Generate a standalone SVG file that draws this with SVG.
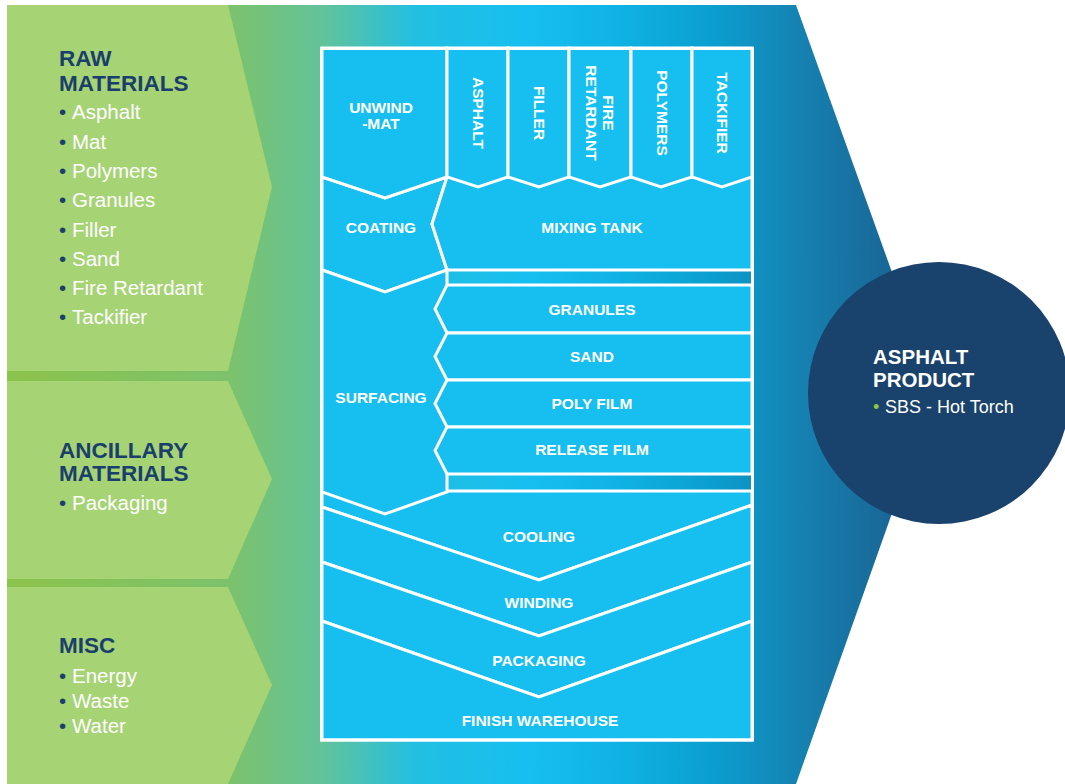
<svg xmlns="http://www.w3.org/2000/svg" width="1065" height="784" viewBox="0 0 1065 784">
  <defs>
    <linearGradient id="bg" gradientUnits="userSpaceOnUse" x1="7" y1="0" x2="935" y2="0">
      <stop offset="0" stop-color="#8cc34b"/>
      <stop offset="0.24" stop-color="#7cc26c"/>
      <stop offset="0.34" stop-color="#62c39a"/>
      <stop offset="0.44" stop-color="#22bfe2"/>
      <stop offset="0.56" stop-color="#16bff0"/>
      <stop offset="0.66" stop-color="#0fb2e4"/>
      <stop offset="0.76" stop-color="#0a9fcf"/>
      <stop offset="0.86" stop-color="#1680b0"/>
      <stop offset="1" stop-color="#1a5a88"/>
    </linearGradient>
    <style>
      .panel { fill: #a6d374; }
      .box { fill: #16bff0; stroke: #ffffff; stroke-width: 3; stroke-linejoin: miter; }
      .lbl { font-family: "Liberation Sans", Arial, sans-serif; font-weight: bold; font-size: 15.5px; fill: #ffffff; text-anchor: middle; }
      .head { font-family: "Liberation Sans", Arial, sans-serif; font-weight: bold; font-size: 22.5px; fill: #1a3f6c; }
      .item { font-family: "Liberation Sans", Arial, sans-serif; font-size: 20.5px; fill: #ffffff; }
      .dot { fill: #1a3f6c; }
      .phead { font-family: "Liberation Sans", Arial, sans-serif; font-weight: bold; font-size: 20.5px; fill: #ffffff; }
      .pitem { font-family: "Liberation Sans", Arial, sans-serif; font-size: 18px; fill: #ffffff; }
    </style>
  </defs>

  <rect x="0" y="0" width="1065" height="784" fill="#ffffff"/>
  <polygon id="background-arrow" points="7,5 796,5 935,392 796,784 7,784" fill="url(#bg)"/>

  <g id="raw-materials">
    <polygon class="panel" points="7,5 228,5 272,187 228,371 7,371"/>
    <text class="head" x="59" y="66">RAW</text>
    <text class="head" x="59" y="91">MATERIALS</text>
    <text class="item" x="59" y="119"><tspan class="dot">•</tspan><tspan x="72">Asphalt</tspan></text>
    <text class="item" x="59" y="148.5"><tspan class="dot">•</tspan><tspan x="72">Mat</tspan></text>
    <text class="item" x="59" y="178"><tspan class="dot">•</tspan><tspan x="72">Polymers</tspan></text>
    <text class="item" x="59" y="207"><tspan class="dot">•</tspan><tspan x="72">Granules</tspan></text>
    <text class="item" x="59" y="236.5"><tspan class="dot">•</tspan><tspan x="72">Filler</tspan></text>
    <text class="item" x="59" y="265.5"><tspan class="dot">•</tspan><tspan x="72">Sand</tspan></text>
    <text class="item" x="59" y="295"><tspan class="dot">•</tspan><tspan x="72">Fire Retardant</tspan></text>
    <text class="item" x="59" y="324"><tspan class="dot">•</tspan><tspan x="72">Tackifier</tspan></text>
  </g>

  <g id="ancillary-materials">
    <polygon class="panel" points="7,381 228,381 272,479 228,579 7,579"/>
    <text class="head" x="59" y="458">ANCILLARY</text>
    <text class="head" x="59" y="481">MATERIALS</text>
    <text class="item" x="59" y="510"><tspan class="dot">•</tspan><tspan x="72">Packaging</tspan></text>
  </g>

  <g id="misc">
    <polygon class="panel" points="7,587 228,587 272,685 228,784 7,784"/>
    <text class="head" x="59" y="653">MISC</text>
    <text class="item" x="59" y="683"><tspan class="dot">•</tspan><tspan x="72">Energy</tspan></text>
    <text class="item" x="59" y="708"><tspan class="dot">•</tspan><tspan x="72">Waste</tspan></text>
    <text class="item" x="59" y="733"><tspan class="dot">•</tspan><tspan x="72">Water</tspan></text>
  </g>

  <g id="cooling">
    <polygon class="box" points="322,491 752,491 752,505 539,580 322,507"/>
    <text class="lbl" x="539" y="542">COOLING</text>
  </g>
  <g id="winding">
    <polygon class="box" points="322,507 539,580 752,505 752,562 539,636 322,562"/>
    <text class="lbl" x="539" y="608">WINDING</text>
  </g>
  <g id="packaging">
    <polygon class="box" points="322,562 539,636 752,562 752,621 539,697 322,621"/>
    <text class="lbl" x="539" y="666">PACKAGING</text>
  </g>
  <g id="finish-warehouse">
    <polygon class="box" points="322,621 539,697 752,621 752,740 322,740"/>
    <text class="lbl" x="540" y="726">FINISH WAREHOUSE</text>
  </g>

  <g id="coating">
    <polygon class="box" points="322,177 385,198 447,177 432,224 447,270 385,292 322,270"/>
    <text class="lbl" x="381" y="233">COATING</text>
  </g>
  <g id="mixing-tank">
    <polygon class="box" points="447,177 752,177 752,270 447,270 432,224"/>
    <text class="lbl" x="592" y="233">MIXING TANK</text>
  </g>

  <g id="surfacing">
    <polygon class="box" points="322,270 385,292 447,270 447,492 385,514 322,492"/>
    <text class="lbl" x="381" y="403">SURFACING</text>
  </g>
  <g id="granules">
    <polygon class="box" points="447,285 752,285 752,333 447,333 435,309"/>
    <text class="lbl" x="592" y="315">GRANULES</text>
  </g>
  <g id="sand">
    <polygon class="box" points="447,333 752,333 752,380 447,380 435,356.5"/>
    <text class="lbl" x="592" y="362">SAND</text>
  </g>
  <g id="poly-film">
    <polygon class="box" points="447,380 752,380 752,427 447,427 435,403.5"/>
    <text class="lbl" x="592" y="408.5">POLY FILM</text>
  </g>
  <g id="release-film">
    <polygon class="box" points="447,427 752,427 752,474 447,474 435,450.5"/>
    <text class="lbl" x="592" y="455">RELEASE FILM</text>
  </g>

  <g id="unwind-mat">
    <polygon class="box" points="322,48 447,48 447,177 385,198 322,177"/>
    <text class="lbl" x="381" y="113">UNWIND</text>
    <text class="lbl" x="381" y="129">-MAT</text>
  </g>
  <g id="asphalt">
    <polygon class="box" points="447,48 508,48 508,177 478,187 447,177"/>
    <text class="lbl" transform="translate(478,113) rotate(90)" x="0" y="5.5">ASPHALT</text>
  </g>
  <g id="filler">
    <polygon class="box" points="508,48 569,48 569,177 539,187 508,177"/>
    <text class="lbl" transform="translate(539,113) rotate(90)" x="0" y="5.5">FILLER</text>
  </g>
  <g id="fire-retardant">
    <polygon class="box" points="569,48 631,48 631,177 600,187 569,177"/>
    <text class="lbl" transform="translate(600,113) rotate(90)" x="0" y="-2.6">FIRE</text>
    <text class="lbl" transform="translate(600,113) rotate(90)" x="0" y="13.6">RETARDANT</text>
  </g>
  <g id="polymers">
    <polygon class="box" points="631,48 692,48 692,177 661,187 631,177"/>
    <text class="lbl" transform="translate(662,113) rotate(90)" x="0" y="5.5">POLYMERS</text>
  </g>
  <g id="tackifier">
    <polygon class="box" points="692,48 752,48 752,177 722,187 692,177"/>
    <text class="lbl" transform="translate(722,113) rotate(90)" x="0" y="5.5">TACKIFIER</text>
  </g>

  <rect id="process-frame" x="321.5" y="48.5" width="431" height="691.5" fill="none" stroke="#ffffff" stroke-width="3"/>

  <g id="asphalt-product">
    <circle cx="939" cy="393" r="131" fill="#19426c"/>
    <text class="phead" x="873" y="364">ASPHALT</text>
    <text class="phead" x="873" y="387">PRODUCT</text>
    <text class="pitem" x="873" y="413"><tspan fill="#8dc63f">•</tspan><tspan x="885">SBS - Hot Torch</tspan></text>
  </g>
  <g id="connectors"/>
</svg>
